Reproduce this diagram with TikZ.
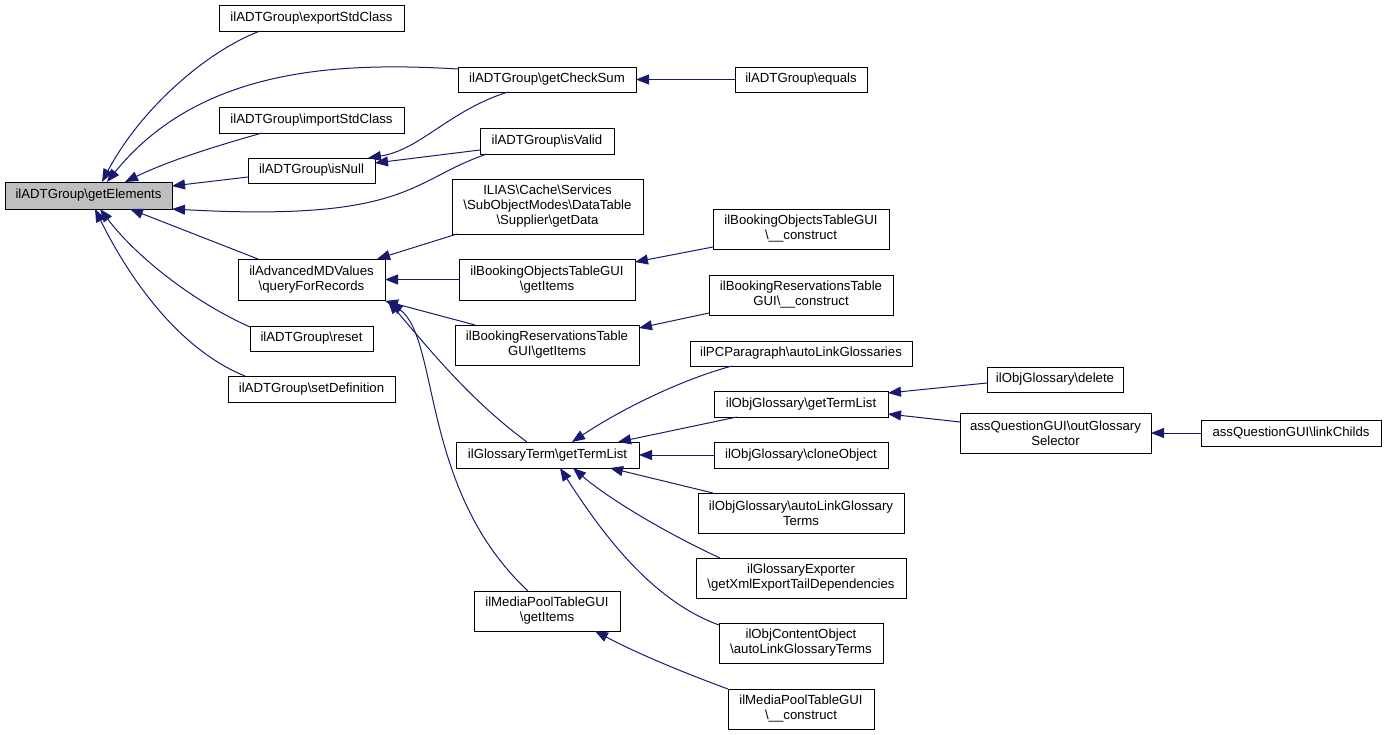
\documentclass[tikz,border=0pt]{standalone}
\usepackage{fontspec}
\setmainfont{Liberation Sans}
\usetikzlibrary{arrows.meta,calc}
\definecolor{edgeblue}{HTML}{191970}
\definecolor{boxgray}{HTML}{BFBFBF}
\newcommand{\bs}{\textbackslash}
\tikzset{
  fn/.style={draw=black, line width=0.9pt, inner sep=0pt, outer sep=0pt, align=center,
    font=\fontsize{13.2}{15}\selectfont, fill=white},
  edge/.style={draw=edgeblue, line width=1pt, -{Triangle[length=13pt,width=10pt]}},
}
\begin{document}
\begin{tikzpicture}[x=1pt,y=-1pt]
\useasboundingbox (0,0) rectangle (1387,735);
% nodes
\node[fn, fill=boxgray, minimum width=167, minimum height=27] (ge) at (88.5,195.5) {ilADTGroup\bs getElements};
\node[fn, minimum width=185, minimum height=26] (exp) at (311.5,18) {ilADTGroup\bs exportStdClass};
\node[fn, minimum width=185, minimum height=26] (imp) at (311.5,120) {ilADTGroup\bs importStdClass};
\node[fn, minimum width=127, minimum height=25] (isnull) at (311.5,170.5) {ilADTGroup\bs isNull};
\node[fn, minimum width=178, minimum height=25] (cs) at (547,79.5) {ilADTGroup\bs getCheckSum};
\node[fn, minimum width=132, minimum height=25] (eq) at (801,79.5) {ilADTGroup\bs equals};
\node[fn, minimum width=134, minimum height=26] (isvalid) at (547,141) {ilADTGroup\bs isValid};
\node[fn, minimum width=191, minimum height=55] (getdata) at (547.5,206.5) {ILIAS\bs Cache\bs Services\\\bs SubObjectModes\bs DataTable\\\bs Supplier\bs getData};
\node[fn, minimum width=176, minimum height=40] (bocon) at (801,229) {ilBookingObjectsTableGUI\\\bs \_\_construct};
\node[fn, minimum width=176, minimum height=41] (boget) at (547,279.5) {ilBookingObjectsTableGUI\\\bs getItems};
\node[fn, minimum width=184, minimum height=40] (brcon) at (801,295) {ilBookingReservationsTable\\GUI\bs \_\_construct};
\node[fn, minimum width=184, minimum height=40] (brget) at (547,345) {ilBookingReservationsTable\\GUI\bs getItems};
\node[fn, minimum width=222, minimum height=25] (pcp) at (801,353.5) {ilPCParagraph\bs autoLinkGlossaries};
\node[fn, minimum width=174, minimum height=26] (ogtl) at (801,404) {ilObjGlossary\bs getTermList};
\node[fn, minimum width=183, minimum height=26] (gttl) at (547.5,455) {ilGlossaryTerm\bs getTermList};
\node[fn, minimum width=174, minimum height=26] (clone) at (801,455) {ilObjGlossary\bs cloneObject};
\node[fn, minimum width=147, minimum height=41] (amd) at (311.5,279.5) {ilAdvancedMDValues\\\bs queryForRecords};
\node[fn, minimum width=123, minimum height=25] (reset) at (311.5,338.5) {ilADTGroup\bs reset};
\node[fn, minimum width=167, minimum height=26] (setdef) at (311.5,389) {ilADTGroup\bs setDefinition};
\node[fn, minimum width=136, minimum height=25] (del) at (1055,379.5) {ilObjGlossary\bs delete};
\node[fn, minimum width=191, minimum height=40] (ogs) at (1055.5,433) {assQuestionGUI\bs outGlossary\\Selector};
\node[fn, minimum width=180, minimum height=26] (lc) at (1291,433) {assQuestionGUI\bs linkChilds};
\node[fn, minimum width=206, minimum height=40] (altg) at (801,513) {ilObjGlossary\bs autoLinkGlossary\\Terms};
\node[fn, minimum width=210, minimum height=40] (gexp) at (801,578) {ilGlossaryExporter\\\bs getXmlExportTailDependencies};
\node[fn, minimum width=164, minimum height=40] (oco) at (801,643) {ilObjContentObject\\\bs autoLinkGlossaryTerms};
\node[fn, minimum width=146, minimum height=40] (mpget) at (547,611) {ilMediaPoolTableGUI\\\bs getItems};
\node[fn, minimum width=146, minimum height=40] (mpcon) at (801,709) {ilMediaPoolTableGUI\\\bs \_\_construct};
% edges
\draw[edge] ($(exp.south west)+(41,0)$) .. controls (205,52) and (140,110) .. ($(ge.north west)+(97,0)$);
\draw[edge] ($(cs.north west)+(0,2)$) .. controls (340,62) and (200,67) .. ($(ge.north west)+(102,0)$);
\draw[edge] ($(imp.south west)+(43,0)$) .. controls (220,145) and (170,160) .. ($(ge.north west)+(120,0)$);
\draw[edge] ($(isnull.north west)+(0,19)$) -- ($(ge.north east)+(0,4)$);
\draw[edge] ($(isvalid.south west)+(7,0)$) .. controls (410,180) and (410,222) .. (ge.south east);
\draw[edge] ($(amd.north west)+(20,0)$) -- ($(ge.south west)+(125,0)$);
\draw[edge] ($(reset.north west)+(0,1)$) .. controls (190,300) and (135,255) .. ($(ge.south west)+(95,0)$);
\draw[edge] ($(setdef.north west)+(17,0)$) .. controls (180,350) and (130,280) .. ($(ge.south west)+(90,0)$);
\draw[edge] ($(cs.south west)+(50,0)$) .. controls (450,110) and (420,150) .. ($(isnull.north west)+(120,0)$);
\draw[edge] ($(isvalid.north west)+(0,22)$) -- ($(isnull.north east)+(0,5)$);
\draw[edge] ($(getdata.south west)+(5,0)$) -- ($(amd.north west)+(139,0)$);
\draw[edge] (boget.west) -- (amd.east);
\draw[edge] ($(brget.north west)+(20,0)$) -- ($(amd.south east)+(0,1)$);
\draw[edge] ($(gttl.north west)+(71,0)$) .. controls (470,400) and (430,350) .. ($(amd.south east)+(3,1)$);
\draw[edge] ($(mpget.north west)+(54,0)$) .. controls (420,490) and (440,340) .. ($(amd.south east)+(5,2)$);
\draw[edge] (eq.west) -- (cs.east);
\draw[edge] ($(bocon.south west)+(0,-2)$) -- ($(boget.north east)+(0,3)$);
\draw[edge] ($(brcon.south west)+(0,-2)$) -- ($(brget.north east)+(0,3)$);
\draw[edge] ($(pcp.south west)+(42,0)$) .. controls (680,380) and (620,410) .. ($(gttl.north west)+(116,0)$);
\draw[edge] ($(ogtl.south west)+(23,0)$) -- ($(gttl.north west)+(162,0)$);
\draw[edge] (clone.west) -- (gttl.east);
\draw[edge] ($(altg.north west)+(15,0)$) -- ($(gttl.south west)+(154,0)$);
\draw[edge] ($(gexp.north west)+(24,0)$) .. controls (670,535) and (610,500) .. ($(gttl.south west)+(117,0)$);
\draw[edge] ($(oco.north west)+(0,2)$) .. controls (650,600) and (600,530) .. ($(gttl.south west)+(104,0)$);
\draw[edge] (mpcon.north west) .. controls (690,675) and (640,655) .. ($(mpget.south west)+(121,0)$);
\draw[edge] ($(del.north west)+(0,16)$) -- ($(ogtl.north east)+(0,2)$);
\draw[edge] ($(ogs.north west)+(0,9)$) -- ($(ogtl.north east)+(0,23)$);
\draw[edge] (lc.west) -- (ogs.east);
\end{tikzpicture}
\end{document}
